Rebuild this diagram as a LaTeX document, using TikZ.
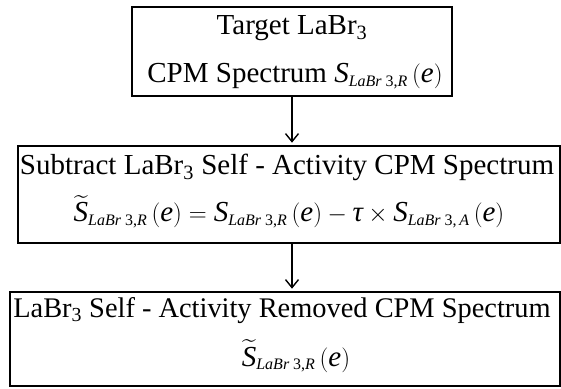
\documentclass[tikz,border=0pt]{standalone}
\usepackage{amsmath}
\usepackage{fontspec}
\setmainfont{Liberation Serif}
\usetikzlibrary{arrows.meta}
\newcommand\labsub[1]{_{\mbox{\fontsize{16}{16}\selectfont\itshape LaBr\ \upshape 3,\itshape #1}}}
\newcommand\Sv{\text{\itshape S}}
\newcommand\St{\widetilde{\text{\itshape S}}}
\newcommand\ee{\,(\text{\itshape e})}
\tikzset{
  boxst/.style={draw=black, line width=2.6pt, inner sep=0pt},
  txt/.style={anchor=base, inner sep=0pt, font=\fontsize{29}{34}\selectfont},
  flow/.style={line width=1.8pt, -{Straight Barb[length=8pt,width=13pt,line width=1.4pt]}}
}
\begin{document}
\begin{tikzpicture}[x=1pt,y=1pt]
\useasboundingbox (0,0) rectangle (561,388);
\fill[white] (0,0) rectangle (561,388);
% boxes
\node[boxst, minimum width=320pt, minimum height=89pt] (b1) at (292,336.5) {};
\node[boxst, minimum width=542pt, minimum height=97pt] (b2) at (289,193.5) {};
\node[boxst, minimum width=550pt, minimum height=94pt] (b3) at (285,49) {};
% texts
\node[txt] (t1a) at (292,353) {Target LaBr\textsubscript{3}};
\node[txt] (t1b) at (295,305) {CPM Spectrum $\Sv\labsub{R}\ee$};
\node[txt] (t2a) at (287,213) {Subtract LaBr\textsubscript{3} Self - Activity CPM Spectrum};
\node[txt] (t2b) at (289,166) {$\St\labsub{R}\ee = \Sv\labsub{R}\ee - \text{\itshape τ}\times\Sv\labsub{\,A}\ee$};
\node[txt, font=\fontsize{28.4}{34}\selectfont] (t3a) at (282,71) {LaBr\textsubscript{3} Self - Activity Removed CPM Spectrum};
\node[txt] (t3b) at (296,22) {$\St\labsub{R}\ee$};
% connectors
\draw[flow] (b1.south -| 292,0) -- ([yshift=2pt]b2.north -| 292,0);
\draw[flow] (b2.south -| 292,0) -- ([yshift=2pt]b3.north -| 292,0);
\end{tikzpicture}
\end{document}
